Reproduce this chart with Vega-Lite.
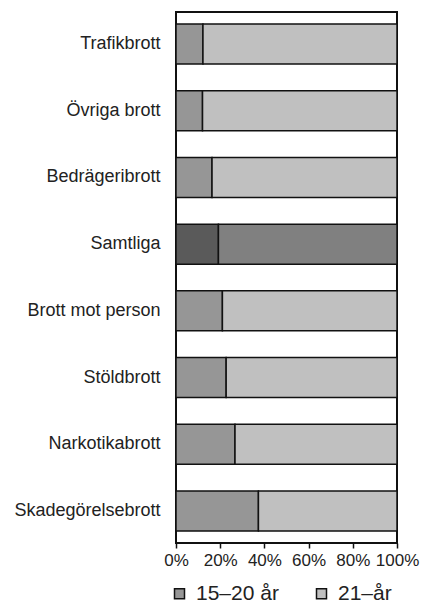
{
  "$schema": "https://vega.github.io/schema/vega-lite/v6.json",
  "width": 221,
  "height": 531,
  "autosize": {"type": "none"},
  "padding": {"left": 176, "top": 12, "right": 25, "bottom": 60},
  "background": "white",
  "config": {
    "font": "Liberation Sans",
    "view": {"stroke": "#111111", "strokeWidth": 2},
    "axis": {"grid": false}
  },
  "data": {
    "values": [
      {"brott": "Trafikbrott", "grupp": "15–20 år", "andel": 12.2},
      {"brott": "Trafikbrott", "grupp": "21–år", "andel": 87.8},
      {"brott": "Övriga brott", "grupp": "15–20 år", "andel": 12.0},
      {"brott": "Övriga brott", "grupp": "21–år", "andel": 88.0},
      {"brott": "Bedrägeribrott", "grupp": "15–20 år", "andel": 16.3},
      {"brott": "Bedrägeribrott", "grupp": "21–år", "andel": 83.7},
      {"brott": "Samtliga", "grupp": "15–20 år", "andel": 19.2},
      {"brott": "Samtliga", "grupp": "21–år", "andel": 80.8},
      {"brott": "Brott mot person", "grupp": "15–20 år", "andel": 21.0},
      {"brott": "Brott mot person", "grupp": "21–år", "andel": 79.0},
      {"brott": "Stöldbrott", "grupp": "15–20 år", "andel": 22.7},
      {"brott": "Stöldbrott", "grupp": "21–år", "andel": 77.3},
      {"brott": "Narkotikabrott", "grupp": "15–20 år", "andel": 26.7},
      {"brott": "Narkotikabrott", "grupp": "21–år", "andel": 73.3},
      {"brott": "Skadegörelsebrott", "grupp": "15–20 år", "andel": 37.3},
      {"brott": "Skadegörelsebrott", "grupp": "21–år", "andel": 62.7}
    ]
  },
  "mark": {"type": "bar", "stroke": "#111111", "strokeWidth": 1.5},
  "encoding": {
    "y": {
      "field": "brott",
      "type": "nominal",
      "sort": ["Trafikbrott", "Övriga brott", "Bedrägeribrott", "Samtliga", "Brott mot person", "Stöldbrott", "Narkotikabrott", "Skadegörelsebrott"],
      "scale": {"paddingInner": 0.4, "paddingOuter": 0.18},
      "axis": {"title": null, "ticks": false, "domain": false, "labelFontSize": 18, "labelColor": "#222222", "labelPadding": 16}
    },
    "x": {
      "field": "andel",
      "type": "quantitative",
      "stack": "normalize",
      "scale": {"domain": [0, 1], "nice": false},
      "axis": {"title": null, "format": "%", "values": [0, 0.2, 0.4, 0.6, 0.8, 1], "domain": false, "tickColor": "#111111", "tickSize": 5, "tickWidth": 1.5, "labelFontSize": 17, "labelColor": "#222222", "labelPadding": 4, "labelFlush": false, "labelOverlap": false}
    },
    "order": {"field": "grupp", "sort": "ascending"},
    "color": {
      "field": "grupp",
      "type": "nominal",
      "scale": {"domain": ["15–20 år", "21–år"], "range": ["#969696", "#c0c0c0"]},
      "condition": [
        {"test": "datum.brott === 'Samtliga' && datum.grupp === '15–20 år'", "value": "#5a5a5a"},
        {"test": "datum.brott === 'Samtliga' && datum.grupp === '21–år'", "value": "#808080"}
      ],
      "legend": {
        "title": null,
        "orient": "none",
        "legendX": -7,
        "legendY": 571,
        "direction": "horizontal",
        "symbolType": "square",
        "symbolSize": 100,
        "symbolStrokeColor": "#111111",
        "symbolStrokeWidth": 1.5,
        "labelFontSize": 21,
        "labelColor": "#222222",
        "labelOffset": 6,
        "columnPadding": 32
      }
    }
  }
}
